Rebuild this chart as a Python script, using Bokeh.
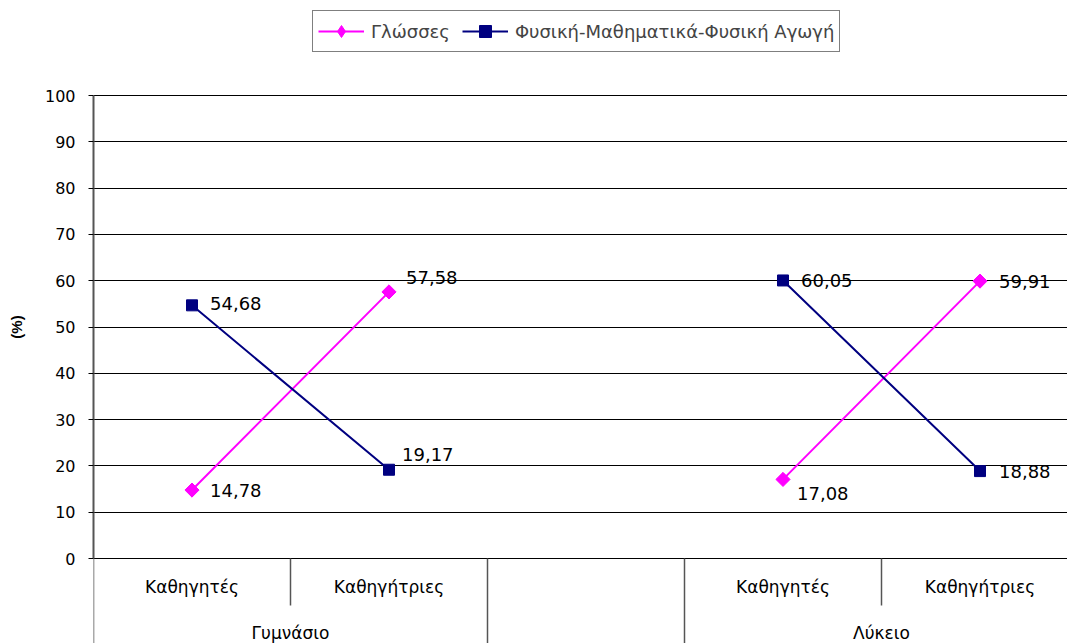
import numpy as np
from bokeh.plotting import figure
from bokeh.models import (Range1d, FixedTicker, Legend, LegendItem, ColumnDataSource,
                          LabelSet)
from bokeh.embed import file_html
from bokeh.resources import INLINE
from bokeh.core.properties import value

# ---------------- data ----------------
categories = ["Καθηγητές", "Καθηγήτριες", "", "Καθηγητές", "Καθηγήτριες"]
groups = ["Γυμνάσιο", "", "Λύκειο"]
group_sizes = [2, 1, 2]
glosses = [14.78, 57.58, np.nan, 17.08, 59.91]
fysiki = [54.68, 19.17, np.nan, 60.05, 18.88]
series_names = ["Γλώσσες", "Φυσική-Μαθηματικά-Φυσική Αγωγή"]
y_ticks = list(range(0, 101, 10))
y_label = "(%)"

# label offsets (screen px)
glosses_dx = [18, 17, 0, 14, 19]
glosses_dy = [0, 14, 0, -14, 0]
fysiki_dx = [18, 13, 0, 18, 19]
fysiki_dy = [2, 15, 0, 0, 0]

FONT = "DejaVu Sans"
PINK = "#FF00FF"
NAVY = "#000080"

W, H = 1067, 643
LEFT, FTOP = 93, 10                     # frame left / frame top (px)
TOP0, BOT0 = 95, 558                    # pixel rows of y=100 and y=0
SLOT = 197
ppu = (BOT0 - TOP0) / 100.0

x = [i + 0.5 for i in range(len(categories))]

p = figure(width=W, height=H,
           x_range=Range1d(0, (W - LEFT) / SLOT),
           y_range=Range1d(-(H - BOT0) / ppu, 100 + (TOP0 - FTOP) / ppu),
           output_backend="svg", toolbar_location=None,
           min_border_left=LEFT, min_border_top=FTOP, min_border_right=0, min_border_bottom=0,
           x_axis_location=None)
p.outline_line_color = None
p.xgrid.visible = False
p.ygrid.ticker = FixedTicker(ticks=y_ticks)
p.ygrid.grid_line_color = "black"
p.ygrid.grid_line_width = 1

ax = p.yaxis[0]
ax.ticker = FixedTicker(ticks=y_ticks)
ax.bounds = (0, 100)
ax.axis_line_color = "#555555"
ax.axis_line_width = 2
ax.major_tick_out = 5
ax.major_tick_in = 0
ax.minor_tick_line_color = None
ax.major_tick_line_color = "black"
ax.major_label_text_font = FONT
ax.major_label_text_font_size = "16px"
ax.major_label_text_color = "black"
ax.major_label_standoff = 13
ax.axis_label = y_label
ax.axis_label_text_font = "Liberation Sans"
ax.axis_label_text_font_size = "15px"
ax.axis_label_text_font_style = "bold"
ax.axis_label_text_color = "black"
ax.axis_label_standoff = 17

# separators below the x axis
bounds_cum = np.cumsum([0] + group_sizes)
outer = list(bounds_cum[:-1])
inner = [i for i in range(1, len(categories)) if i not in bounds_cum]
p.segment(x0=outer, y0=[0] * len(outer), x1=outer, y1=[-30] * len(outer),
          line_color="#555555", line_width=1.5)
p.segment(x0=inner, y0=[0] * len(inner), x1=inner, y1=[-10.15] * len(inner),
          line_color="#555555", line_width=1.5)

# category labels
p.text(x=x, y=[-6.26] * len(x), text=categories, text_font=value(FONT),
       text_font_size="17px", text_align="center", text_baseline="middle", text_color="black")
gx = [(bounds_cum[i] + bounds_cum[i + 1]) / 2 for i in range(len(groups))]
p.text(x=gx, y=[-16.1] * len(gx), text=groups, text_font=value(FONT),
       text_font_size="17px", text_align="center", text_baseline="middle", text_color="black")

# series
l1 = p.line(x, glosses, line_color=PINK, line_width=2)
# diamond marker (drawn under the rotated square) used as the legend glyph
s1_leg = p.scatter(x=x[:1], y=glosses[:1], marker="diamond", size=14,
                   fill_color=PINK, line_color=PINK)
s1 = p.scatter(x, glosses, marker="square", angle=np.pi / 4, size=10,
               fill_color=PINK, line_color=PINK)
l2 = p.line(x, fysiki, line_color=NAVY, line_width=2)
s2 = p.scatter(x, fysiki, marker="square", size=11, fill_color=NAVY, line_color=NAVY)


def lbl_source(vals, dx, dy):
    keep = [i for i, v in enumerate(vals) if not np.isnan(v)]
    return ColumnDataSource(dict(
        x=[x[i] for i in keep], y=[vals[i] for i in keep],
        t=[f"{vals[i]:.2f}".replace(".", ",") for i in keep],
        dx=[dx[i] for i in keep], dy=[dy[i] for i in keep]))


for vals, dx, dy in [(glosses, glosses_dx, glosses_dy), (fysiki, fysiki_dx, fysiki_dy)]:
    p.add_layout(LabelSet(x="x", y="y", text="t", x_offset="dx", y_offset="dy",
                          source=lbl_source(vals, dx, dy), text_font=value(FONT),
                          text_font_size="18px", text_baseline="middle", text_color="black"))

legend = Legend(items=[LegendItem(label=series_names[0], renderers=[l1, s1_leg]),
                       LegendItem(label=series_names[1], renderers=[l2, s2])],
                orientation="horizontal", location=(312 - LEFT, H - 52))
legend.border_line_color = "black"
legend.border_line_width = 1
legend.background_fill_color = "white"
legend.background_fill_alpha = 1
legend.label_text_font = FONT
legend.label_text_font_size = "18px"
legend.glyph_width = 46
legend.glyph_height = 30
legend.label_height = 30
legend.label_standoff = 7
legend.spacing = 12
legend.padding = 5
legend.margin = 0
p.add_layout(legend)

open("out.html", "w").write(file_html(p, INLINE))
